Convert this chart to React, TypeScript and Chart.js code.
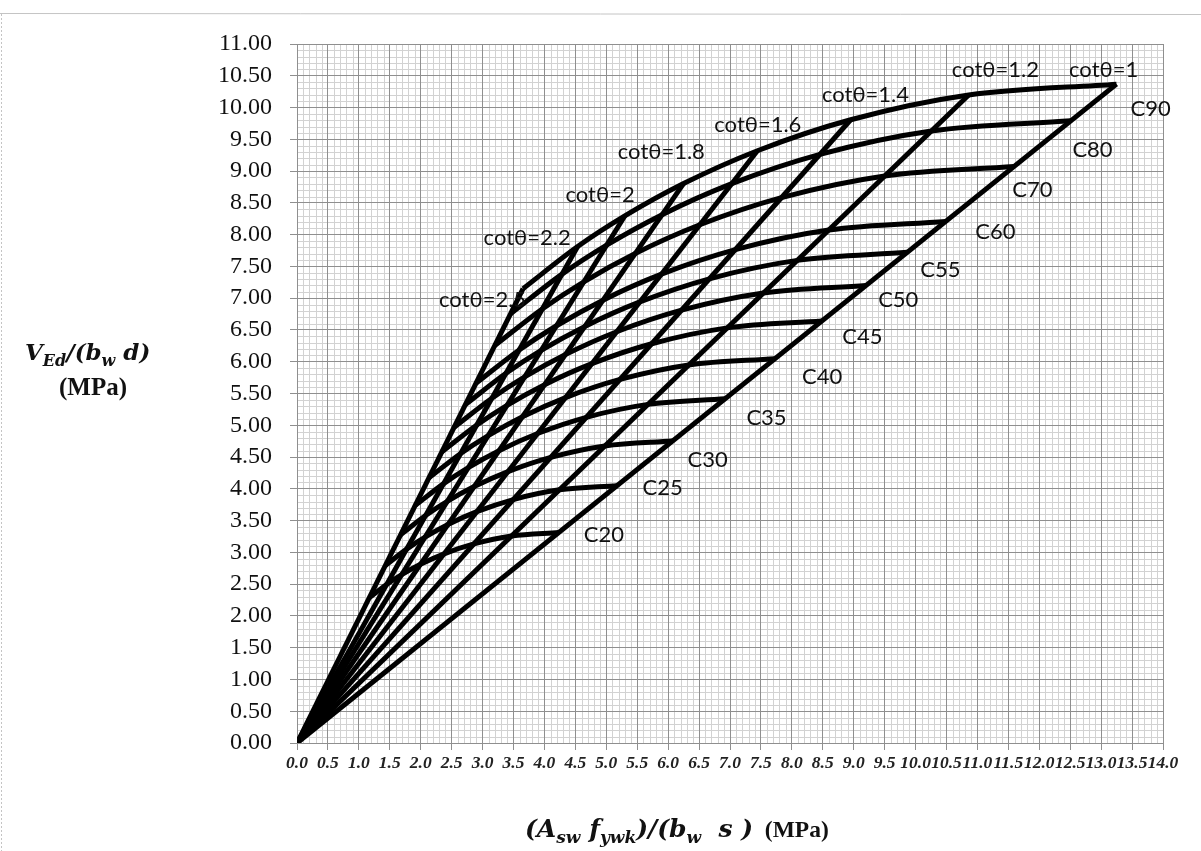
import React, { useEffect, useRef } from "react";
import { Chart, registerables } from "chart.js";

Chart.register(...registerables);

// Strut inclination values, ordered from flattest strut (cotθ = 2.5) to steepest (cotθ = 1)
const COT_LABELS = ["cotθ=2.5", "cotθ=2.2", "cotθ=2", "cotθ=1.8", "cotθ=1.6", "cotθ=1.4", "cotθ=1.2", "cotθ=1"];

// Concrete classes
const CLASS_LABELS = ["C20", "C25", "C30", "C35", "C40", "C45", "C50", "C55", "C60", "C70", "C80", "C90"];

// Crushing limit of the strut for each class, one point per cotθ (2.5 ... 1)
const C20_X = [1.167, 1.449, 1.693, 1.996, 2.378, 2.86, 3.469, 4.232];
const C20_Y = [2.284, 2.495, 2.65, 2.812, 2.977, 3.133, 3.258, 3.312];
const C25_X = [1.428, 1.772, 2.07, 2.441, 2.907, 3.497, 4.242, 5.175];
const C25_Y = [2.793, 3.051, 3.24, 3.439, 3.64, 3.831, 3.984, 4.05];
const C30_X = [1.675, 2.079, 2.429, 2.864, 3.411, 4.103, 4.977, 6.072];
const C30_Y = [3.277, 3.58, 3.802, 4.035, 4.271, 4.495, 4.674, 4.752];
const C35_X = [1.91, 2.371, 2.769, 3.266, 3.889, 4.678, 5.675, 6.923];
const C35_Y = [3.737, 4.082, 4.334, 4.6, 4.87, 5.125, 5.329, 5.418];
const C40_X = [2.132, 2.647, 3.091, 3.645, 4.342, 5.222, 6.334, 7.728];
const C40_Y = [4.171, 4.557, 4.838, 5.135, 5.436, 5.721, 5.949, 6.048];
const C45_X = [2.341, 2.907, 3.395, 4.003, 4.768, 5.735, 6.957, 8.487];
const C45_Y = [4.581, 5.004, 5.314, 5.639, 5.97, 6.283, 6.533, 6.642];
const C50_X = [2.538, 3.151, 3.68, 4.34, 5.169, 6.216, 7.541, 9.2];
const C50_Y = [4.966, 5.425, 5.76, 6.113, 6.472, 6.811, 7.082, 7.2];
const C55_X = [2.722, 3.379, 3.947, 4.654, 5.543, 6.667, 8.088, 9.867];
const C55_Y = [5.326, 5.818, 6.178, 6.556, 6.941, 7.305, 7.595, 7.722];
const C60_X = [2.893, 3.592, 4.195, 4.947, 5.892, 7.087, 8.597, 10.488];
const C60_Y = [5.661, 6.184, 6.566, 6.969, 7.378, 7.764, 8.073, 8.208];
const C70_X = [3.198, 3.97, 4.637, 5.468, 6.512, 7.832, 9.502, 11.592];
const C70_Y = [6.257, 6.835, 7.258, 7.703, 8.155, 8.582, 8.923, 9.072];
const C80_X = [3.452, 4.285, 5.005, 5.902, 7.029, 8.454, 10.256, 12.512];
const C80_Y = [6.753, 7.378, 7.834, 8.314, 8.802, 9.263, 9.632, 9.792];
const C90_X = [3.655, 4.537, 5.299, 6.249, 7.443, 8.951, 10.859, 13.248];
const C90_Y = [7.15, 7.812, 8.294, 8.803, 9.32, 9.808, 10.198, 10.368];

const CLASS_X = [C20_X, C25_X, C30_X, C35_X, C40_X, C45_X, C50_X, C55_X, C60_X, C70_X, C80_X, C90_X];
const CLASS_Y = [C20_Y, C25_Y, C30_Y, C35_Y, C40_Y, C45_Y, C50_Y, C55_Y, C60_Y, C70_Y, C80_Y, C90_Y];

// Axis tick labels
const X_TICK_LABELS = [
  "0.0", "0.5", "1.0", "1.5", "2.0", "2.5", "3.0", "3.5", "4.0", "4.5",
  "5.0", "5.5", "6.0", "6.5", "7.0", "7.5", "8.0", "8.5", "9.0", "9.5",
  "10.0", "10.5", "11.0", "11.5", "12.0", "12.5", "13.0", "13.5", "14.0",
];
const Y_TICK_LABELS = [
  "0.00", "0.50", "1.00", "1.50", "2.00", "2.50", "3.00", "3.50", "4.00", "4.50", "5.00", "5.50",
  "6.00", "6.50", "7.00", "7.50", "8.00", "8.50", "9.00", "9.50", "10.00", "10.50", "11.00",
];

// Where the curve labels sit, in axis units (x, y)
const CLASS_LABEL_AT = [
  [4.96, 3.28], [5.91, 4.02], [6.64, 4.46], [7.59, 5.12], [8.49, 5.76], [9.14, 6.39],
  [9.72, 6.98], [10.4, 7.45], [11.29, 8.05], [11.89, 8.71], [12.86, 9.34], [13.8, 9.98],
];
const COT_LABEL_AT = [
  [3.0, 6.98], [3.72, 7.95], [4.9, 8.62], [5.89, 9.3], [7.45, 9.73], [9.19, 10.2], [11.29, 10.6], [13.04, 10.6],
];

const INK = "#111111";
const MAJOR_GRID = "#8f8f8f";
const MINOR_GRID = "#d2d2d2";

const minorGridPlugin = {
  id: "minorGrid",
  beforeDraw(chart: any) {
    const { ctx, chartArea, scales } = chart;
    const xs = scales.x;
    const ys = scales.y;
    ctx.save();
    ctx.strokeStyle = MINOR_GRID;
    ctx.lineWidth = 1;
    ctx.beginPath();
    for (let i = 1; i < 140; i++) {
      if (i % 5 === 0) continue;
      const px = Math.round(xs.getPixelForValue(i / 10)) + 0.5;
      ctx.moveTo(px, chartArea.top);
      ctx.lineTo(px, chartArea.bottom);
    }
    for (let j = 1; j < 110; j++) {
      if (j % 5 === 0) continue;
      const py = Math.round(ys.getPixelForValue(j / 10)) + 0.5;
      ctx.moveTo(chartArea.left, py);
      ctx.lineTo(chartArea.right, py);
    }
    ctx.stroke();
    // page frame
    ctx.strokeStyle = "#c4c4c4";
    ctx.beginPath();
    ctx.moveTo(0, 13.5);
    ctx.lineTo(1201, 14.5);
    ctx.stroke();
    ctx.setLineDash([2, 2]);
    ctx.beginPath();
    ctx.moveTo(1.5, 14);
    ctx.lineTo(1.5, 851);
    ctx.stroke();
    ctx.restore();
  },
};

type Run = { t: string; f: string; dy?: number };

function drawRuns(ctx: CanvasRenderingContext2D, x: number, y: number, runs: Run[]) {
  let cx = x;
  for (const r of runs) {
    ctx.font = r.f;
    ctx.fillText(r.t, cx, y + (r.dy || 0));
    cx += ctx.measureText(r.t).width;
  }
}

const labelsPlugin = {
  id: "curveLabels",
  afterDraw(chart: any) {
    const { ctx, scales } = chart;
    const xs = scales.x;
    const ys = scales.y;
    ctx.save();
    ctx.fillStyle = INK;
    ctx.textAlign = "center";
    ctx.textBaseline = "middle";
    ctx.font = '22px Lato, "Liberation Sans", sans-serif';
    CLASS_LABELS.forEach((t, i) => {
      const [vx, vy] = CLASS_LABEL_AT[i];
      ctx.fillText(t, xs.getPixelForValue(vx), ys.getPixelForValue(vy));
    });
    COT_LABELS.forEach((t, i) => {
      const [vx, vy] = COT_LABEL_AT[i];
      ctx.fillText(t, xs.getPixelForValue(vx), ys.getPixelForValue(vy));
    });

    // axis titles with subscripts
    ctx.textAlign = "left";
    ctx.textBaseline = "alphabetic";
    const main = 'italic bold 23px "DejaVu Serif", serif';
    const sub = 'italic bold 16px "DejaVu Serif", serif';
    const xMain = 'italic bold 25px "DejaVu Serif", serif';
    const xSub = 'italic bold 17px "DejaVu Serif", serif';
    const yUnit = 'bold 25px "Liberation Serif", serif';
    const xUnit = 'bold 23.5px "Liberation Serif", serif';
    drawRuns(ctx, 25, 360, [
      { t: "V", f: main },
      { t: "Ed", f: sub, dy: 6 },
      { t: "/(b", f: main },
      { t: "w", f: sub, dy: 6 },
      { t: " d)", f: main },
    ]);
    ctx.textAlign = "center";
    ctx.font = yUnit;
    ctx.fillText("(MPa)", 93, 395);
    ctx.textAlign = "left";
    drawRuns(ctx, 525, 837, [
      { t: "(A", f: xMain },
      { t: "sw", f: xSub, dy: 6 },
      { t: " f", f: xMain },
      { t: "ywk", f: xSub, dy: 6 },
      { t: ")/(b", f: xMain },
      { t: "w", f: xSub, dy: 6 },
      { t: "  s )", f: xMain },
      { t: "  (MPa)", f: xUnit },
    ]);
    ctx.restore();
  },
};

export default function App() {
  const ref = useRef<HTMLCanvasElement>(null);

  useEffect(() => {
    const canvas = ref.current;
    if (!canvas) return;

    const curveSets = CLASS_LABELS.map((name, i) => ({
      label: name,
      data: CLASS_X[i].map((x, k) => ({ x, y: CLASS_Y[i][k] })),
      borderColor: "#000",
      borderWidth: 5,
      pointRadius: 0,
      cubicInterpolationMode: "monotone" as const,
      fill: false,
    }));
    const strutSets = COT_LABELS.map((name, k) => ({
      label: name,
      data: [
        { x: 0, y: 0 },
        { x: C90_X[k], y: C90_Y[k] },
      ],
      borderColor: "#000",
      borderWidth: 5,
      pointRadius: 0,
      fill: false,
    }));

    const chart = new Chart(canvas, {
      type: "line",
      data: { datasets: [...strutSets, ...curveSets] as any },
      options: {
        animation: false,
        responsive: false,
        devicePixelRatio: 1,
        parsing: false,
        normalized: true,
        layout: { padding: { left: 0, top: 44, right: 38, bottom: 0 } },
        plugins: {
          legend: { display: false },
          tooltip: { enabled: false },
          title: { display: false },
        },
        scales: {
          x: {
            type: "linear",
            min: 0,
            max: 14,
            afterFit: (s: any) => {
              s.height = 108;
            },
            ticks: {
              stepSize: 0.5,
              autoSkip: false,
              maxRotation: 0,
              minRotation: 0,
              padding: 3,
              color: "#222",
              font: { family: '"Liberation Serif", serif', size: 17.5, style: "italic", weight: "bold" },
              callback: (_v: any, i: number) => X_TICK_LABELS[i],
            },
            grid: { color: MAJOR_GRID, lineWidth: 1, tickLength: 7 },
            border: { display: true, color: MAJOR_GRID },
          },
          y: {
            type: "linear",
            min: 0,
            max: 11,
            afterFit: (s: any) => {
              s.width = 297;
            },
            ticks: {
              stepSize: 0.5,
              autoSkip: false,
              padding: 18,
              color: "#111",
              font: { family: '"Liberation Serif", serif', size: 24 },
              callback: (_v: any, i: number) => Y_TICK_LABELS[i],
            },
            grid: { color: MAJOR_GRID, lineWidth: 1, tickLength: 7 },
            border: { display: true, color: MAJOR_GRID },
          },
        },
      },
      plugins: [minorGridPlugin, labelsPlugin],
    });

    return () => chart.destroy();
  }, []);

  return (
    <div
      style={{
        position: "fixed",
        left: 0,
        top: 0,
        width: 1201,
        height: 851,
        background: "#fff",
        overflow: "hidden",
      }}
    >
      <canvas ref={ref} width={1201} height={851} style={{ display: "block", width: 1201, height: 851 }} />
    </div>
  );
}
